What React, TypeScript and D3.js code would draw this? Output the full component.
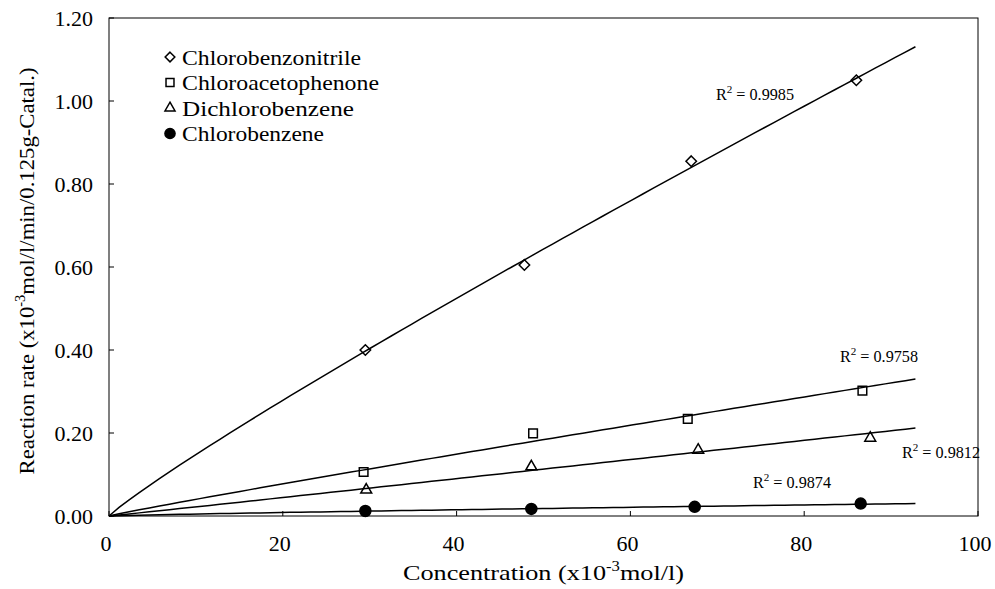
import React from 'react';
import * as d3 from 'd3';

const width = 995, height = 589;
const margin = { top: 18, right: 17, bottom: 73, left: 109 };

// measured points, x in 1e-3 mol/l, y = reaction rate
const nitrileX = [29.5, 47.8, 67.0, 86.0];
const nitrileY = [0.40, 0.605, 0.855, 1.05];
const acetoX = [29.3, 48.8, 66.6, 86.7];
const acetoY = [0.106, 0.199, 0.234, 0.302];
const dichloroX = [29.6, 48.6, 67.8, 87.6];
const dichloroY = [0.063, 0.119, 0.159, 0.188];
const benzeneX = [29.5, 48.6, 67.4, 86.5];
const benzeneY = [0.012, 0.017, 0.022, 0.030];

const seriesNames = ['Chlorobenzonitrile', 'Chloroacetophenone', 'Dichlorobenzene', 'Chlorobenzene'];
const r2Labels = ['0.9985', '0.9758', '0.9812', '0.9874'];
const xTicks = [0, 20, 40, 60, 80, 100];
const yTicks = [0, 0.2, 0.4, 0.6, 0.8, 1.0, 1.2];
const trendEnd = 92.8;

const font = '"Liberation Serif", "Times New Roman", serif';

// power trendline fit (log-log least squares, like the spreadsheet does)
function powerFit(xs: number[], ys: number[]) {
    const lx = xs.map(Math.log), ly = ys.map(Math.log);
    const mx = d3.mean(lx)!, my = d3.mean(ly)!;
    const b = d3.sum(lx, (v, i) => (v - mx) * (ly[i] - my)) / d3.sum(lx, v => (v - mx) * (v - mx));
    const a = Math.exp(my - b * mx);
    return (x: number) => (x <= 0 ? 0 : a * Math.pow(x, b));
}

export default function App() {
    const x = d3.scaleLinear().domain([0, 100]).range([margin.left, width - margin.right]);
    const y = d3.scaleLinear().domain([0, 1.2]).range([height - margin.bottom, margin.top]);

    const series = [
        { xs: nitrileX, ys: nitrileY, symbol: d3.symbolDiamond2, fill: 'none', size: 70 },
        { xs: acetoX, ys: acetoY, symbol: d3.symbolSquare2, fill: 'none', size: 95 },
        { xs: dichloroX, ys: dichloroY, symbol: d3.symbolTriangle2, fill: 'none', size: 85 },
        { xs: benzeneX, ys: benzeneY, symbol: d3.symbolCircle, fill: '#000', size: 95 },
    ];

    const samples = d3.range(0, trendEnd + 0.001, trendEnd / 80);
    const line = d3.line<[number, number]>().x(d => x(d[0])).y(d => y(d[1]));

    // positions of the R² annotations
    const r2Pos = [[716, 100], [840, 362], [902, 458], [753, 488]];
    const legendWidths = [179, 197, 172, 142];

    return (
        <svg width={width} height={height} style={{ position: 'absolute', left: 0, top: 0, background: '#fff' }}
            fontFamily={font}>
            <rect x={x(0)} y={y(1.2)} width={x(100) - x(0)} height={y(0) - y(1.2)}
                fill="none" stroke="#000" strokeWidth={1} />

            {/* ticks inward */}
            {yTicks.map(t => (
                <g key={'y' + t}>
                    <line x1={x(0)} x2={x(0) + 5} y1={y(t)} y2={y(t)} stroke="#000" />
                    <text x={93} y={y(t)} dy="0.35em" textAnchor="end" fontSize={22}>{t.toFixed(2)}</text>
                </g>
            ))}
            {xTicks.map(t => (
                <g key={'x' + t}>
                    <line x1={x(t)} x2={x(t)} y1={y(0)} y2={y(0) - 5} stroke="#000" />
                    <text x={x(t) - 3} y={y(0) + 27} dy="0.35em" textAnchor="middle" fontSize={22}>{t}</text>
                </g>
            ))}

            {/* trendlines */}
            {series.map((s, i) => {
                const f = powerFit(s.xs, s.ys);
                return <path key={'l' + i} d={line(samples.map(v => [v, f(v)] as [number, number])) || ''}
                    fill="none" stroke="#000" strokeWidth={1.5} />;
            })}

            {/* markers */}
            {series.map((s, i) => s.xs.map((v, j) => (
                <path key={`m${i}-${j}`} transform={`translate(${x(v)},${y(s.ys[j])})`}
                    d={d3.symbol(s.symbol, s.size)() || ''} fill={s.fill} stroke="#000" strokeWidth={1.5} />
            )))}

            {/* R² labels */}
            {r2Labels.map((r, i) => (
                <text key={'r' + i} x={r2Pos[i][0]} y={r2Pos[i][1]} fontSize={16} textLength={78}
                    lengthAdjust="spacingAndGlyphs">
                    R<tspan dy={-7} fontSize={11}>2</tspan><tspan dy={7}> = {r}</tspan>
                </text>
            ))}

            {/* legend */}
            {series.map((s, i) => (
                <g key={'lg' + i} transform={`translate(170,${57 + i * 25.5})`}>
                    <path d={d3.symbol(s.symbol, s.size * 0.85)() || ''} fill={s.fill} stroke="#000" strokeWidth={1.5} />
                    <text x={12} dy="0.35em" fontSize={22} textLength={legendWidths[i]}
                        lengthAdjust="spacingAndGlyphs">{seriesNames[i]}</text>
                </g>
            ))}

            {/* axis titles */}
            <text x={(x(0) + x(100)) / 2} y={580} textAnchor="middle" fontSize={22} textLength={281}
                lengthAdjust="spacingAndGlyphs">
                Concentration (x10<tspan dy={-9} fontSize={14}>-3</tspan><tspan dy={9}>mol/l)</tspan>
            </text>
            <text transform={`translate(34,${(y(0) + y(1.2)) / 2 + 4}) rotate(-90)`} textAnchor="middle" fontSize={22}
                textLength={407} lengthAdjust="spacingAndGlyphs">
                Reaction rate (x10<tspan dy={-9} fontSize={14}>-3</tspan><tspan dy={9}>mol/l/min/0.125g-Catal.)</tspan>
            </text>
        </svg>
    );
}
